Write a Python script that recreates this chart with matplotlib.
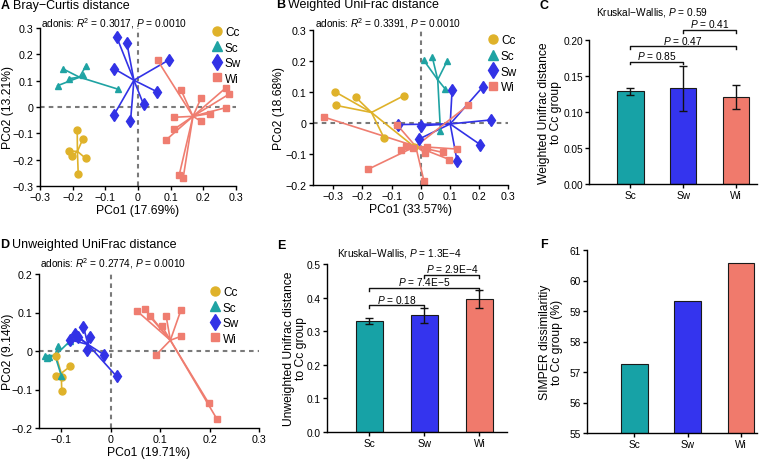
import numpy as np
import matplotlib
matplotlib.use("Agg")
import matplotlib.pyplot as plt

plt.rcParams['font.family'] = ['Liberation Sans', 'DejaVu Sans']
plt.rcParams['mathtext.fontset'] = 'custom'
plt.rcParams['mathtext.rm'] = 'Liberation Sans'
plt.rcParams['mathtext.it'] = 'Liberation Sans:italic'
plt.rcParams['axes.unicode_minus'] = True

# ---- data: groups ----
groups = ['Cc', 'Sc', 'Sw', 'Wi']
bar_groups = ['Sc', 'Sw', 'Wi']

# ---- A: Bray-Curtis PCoA ----
bray_cc_x = [-0.186, -0.169, -0.212, -0.203, -0.160, -0.183]
bray_cc_y = [-0.088, -0.122, -0.167, -0.187, -0.195, -0.253]
bray_sc_x = [-0.230, -0.160, -0.210, -0.167, -0.246, -0.062]
bray_sc_y = [0.145, 0.155, 0.108, 0.122, 0.081, 0.068]
bray_sw_x = [-0.065, -0.034, -0.074, 0.095, 0.058, 0.017, -0.074, -0.023]
bray_sw_y = [0.265, 0.242, 0.146, 0.179, 0.058, 0.010, -0.031, -0.055]
bray_wi_x = [0.060, 0.132, 0.193, 0.270, 0.279, 0.270, 0.219, 0.193, 0.110, 0.110, 0.087, 0.126, 0.138]
bray_wi_y = [0.177, 0.064, 0.034, 0.074, 0.049, -0.002, -0.025, -0.054, -0.039, -0.085, -0.124, -0.259, -0.271]

# ---- B: weighted UniFrac PCoA ----
wuf_cc_x = [-0.293, -0.223, -0.292, -0.058, -0.126, -0.023]
wuf_cc_y = [0.100, 0.083, 0.057, 0.088, -0.048, -0.076]
wuf_sc_x = [0.010, 0.040, 0.091, 0.084, 0.068]
wuf_sc_y = [0.203, 0.212, 0.200, 0.110, -0.027]
wuf_sw_x = [0.108, 0.213, 0.243, 0.205, 0.125, -0.006, 0.000, -0.077]
wuf_sw_y = [0.108, 0.116, 0.010, -0.070, -0.122, -0.052, -0.009, -0.005]
wuf_wi_x = [-0.332, -0.081, 0.164, -0.180, 0.011, -0.051, -0.066, -0.025, 0.022, 0.016, 0.076, 0.099, 0.124]
wuf_wi_y = [0.019, -0.006, 0.058, -0.149, -0.186, -0.073, -0.087, -0.082, -0.078, -0.097, -0.095, -0.118, -0.084]

# ---- D: unweighted UniFrac PCoA ----
uuf_cc_x = [-0.111, -0.082, -0.099, -0.098, -0.110]
uuf_cc_y = [-0.064, -0.040, -0.103, -0.068, -0.014]
uuf_sc_x = [-0.133, -0.125, -0.107, -0.082, -0.100, -0.128]
uuf_sc_y = [-0.012, -0.016, 0.014, 0.026, -0.064, -0.018]
uuf_sw_x = [-0.055, -0.073, -0.067, -0.042, -0.082, -0.048, -0.013, 0.012]
uuf_sw_y = [0.063, 0.044, 0.036, 0.037, 0.029, 0.003, -0.010, -0.066]
uuf_wi_x = [0.054, 0.069, 0.079, 0.112, 0.142, 0.104, 0.142, 0.092, 0.198, 0.215]
uuf_wi_y = [0.103, 0.109, 0.090, 0.092, 0.106, 0.064, 0.038, -0.010, -0.135, -0.177]

# ---- C, E, F: bar data ----
wuf_mean = [0.129, 0.133, 0.121]
wuf_err = [0.005, 0.031, 0.017]
wuf_pvals = ['0.85', '0.47', '0.41']
wuf_kw = '0.59'

uuf_mean = [0.330, 0.347, 0.396]
uuf_err = [0.008, 0.022, 0.026]
uuf_pvals = ['0.18', '7.4E\u22125', '2.9E\u22124']
uuf_kw = '1.3E\u22124'

simper = [57.27, 59.32, 60.56]

# ---- styling ----
colors = {'Cc': '#dfb22a', 'Sc': '#1fa3a3', 'Sw': '#3232e6', 'Wi': '#ef7d70'}
bar_colors = ['#17a2a6', '#3434ee', '#f07a6c']
markers = {'Cc': 'o', 'Sc': '^', 'Sw': 'd', 'Wi': 's'}
msizes = {'Cc': 5, 'Sc': 5, 'Sw': 6.5, 'Wi': 4.3}

W, H = 761, 460
fig = plt.figure(figsize=(W / 100, H / 100), dpi=100)


def rect(l, t, r, b):
    return [l / W, 1 - b / H, (r - l) / W, (b - t) / H]


def style(ax, size=7.7):
    for s in ['top', 'right']:
        ax.spines[s].set_visible(False)
    for s in ['left', 'bottom']:
        ax.spines[s].set_linewidth(1.0)
    ax.tick_params(labelsize=size, length=3, width=1, pad=1.5)


def pcoa(ax, data, xlim, ylim, xlab, ylab, ylab_x):
    style(ax)
    ax.axhline(0, color='#7a7a7a', ls=(0, (2.2, 2)), lw=1.5, zorder=0)
    ax.axvline(0, color='#7a7a7a', ls=(0, (2.2, 2)), lw=1.5, zorder=0)
    for g, (xs, ys) in zip(groups, data):
        cx, cy = np.mean(xs), np.mean(ys)
        for x, y in zip(xs, ys):
            ax.plot([cx, x], [cy, y], color=colors[g], lw=1.2, zorder=1)
    for g, (xs, ys) in zip(groups, data):
        ax.plot(xs, ys, ls='none', marker=markers[g], ms=msizes[g],
                color=colors[g], mec=colors[g], zorder=2, label=g)
    ax.set_xlim(xlim)
    ax.set_ylim(ylim)
    ax.set_xlabel(xlab, fontsize=8.7, labelpad=1)
    ax.set_ylabel(ylab, fontsize=8.7)
    ax.yaxis.set_label_coords(ylab_x, 0.5)


def legend(ax, x, y):
    ax.legend(loc='upper left', bbox_to_anchor=(x / W, 1 - y / H),
              bbox_transform=fig.transFigure, frameon=False, fontsize=8.5,
              handlelength=0.8, handletextpad=0.3, borderpad=0,
              labelspacing=0.3, markerscale=1.3, borderaxespad=0)


def bars(ax, vals, err=None):
    style(ax, 7.3)
    idx = np.arange(len(bar_groups))
    ax.bar(idx, vals, width=0.5, color=bar_colors, edgecolor='#1a1a1a', lw=0.8, zorder=2)
    if err is not None:
        ax.errorbar(idx, vals, yerr=err, fmt='none', ecolor='#111111',
                    elinewidth=1, capsize=3, capthick=1, zorder=3)
    ax.set_xticks(idx)
    ax.set_xticklabels(bar_groups)


def bracket(ax, i, j, h, tick, label):
    ax.plot([i, i, j, j], [h - tick, h, h, h - tick], color='#111111', lw=1,
            clip_on=False)
    ax.text((i + j) / 2, h + tick * 0.3, r'$P$ = ' + label, ha='center', va='bottom',
            fontsize=7.3, clip_on=False)


# A
axA = fig.add_axes(rect(40, 29, 236, 187))
pcoa(axA, [(bray_cc_x, bray_cc_y), (bray_sc_x, bray_sc_y),
           (bray_sw_x, bray_sw_y), (bray_wi_x, bray_wi_y)],
     (-0.3, 0.3), (-0.3, 0.3), 'PCo1 (17.69%)', 'PCo2 (13.21%)', -0.135)
axA.set_xticks(np.arange(-0.3, 0.31, 0.1))
axA.set_yticks(np.arange(-0.3, 0.31, 0.1))
axA.set_xticklabels(['\u22120.3', '\u22120.2', '\u22120.1', '0', '0.1', '0.2', '0.3'])
axA.set_yticklabels(['\u22120.3', '\u22120.2', '\u22120.1', '0', '0.1', '0.2', '0.3'])
legend(axA, 212, 27)

# B
axB = fig.add_axes(rect(313, 31, 508, 186))
pcoa(axB, [(wuf_cc_x, wuf_cc_y), (wuf_sc_x, wuf_sc_y),
           (wuf_sw_x, wuf_sw_y), (wuf_wi_x, wuf_wi_y)],
     (-0.37, 0.3), (-0.2, 0.3), 'PCo1 (33.57%)', 'PCo2 (18.68%)', -0.145)
axB.set_xticks(np.arange(-0.3, 0.31, 0.1))
axB.set_yticks(np.arange(-0.2, 0.31, 0.1))
axB.set_xticklabels(['\u22120.3', '\u22120.2', '\u22120.1', '0', '0.1', '0.2', '0.3'])
axB.set_yticklabels(['\u22120.2', '\u22120.1', '0', '0.1', '0.2', '0.3'])
legend(axB, 488, 35.5)

# D
axD = fig.add_axes(rect(39, 275, 259, 429))
pcoa(axD, [(uuf_cc_x, uuf_cc_y), (uuf_sc_x, uuf_sc_y),
           (uuf_sw_x, uuf_sw_y), (uuf_wi_x, uuf_wi_y)],
     (-0.145, 0.3), (-0.2, 0.2), 'PCo1 (19.71%)', 'PCo2 (9.14%)', -0.115)
axD.set_xticks([-0.1, 0, 0.1, 0.2, 0.3])
axD.set_yticks([-0.2, -0.1, 0, 0.1, 0.2])
axD.set_xticklabels(['\u22120.1', '0', '0.1', '0.2', '0.3'])
axD.set_yticklabels(['\u22120.2', '\u22120.1', '0', '0.1', '0.2'])
legend(axD, 210, 287)

# C
axC = fig.add_axes(rect(589, 41, 757, 185))
bars(axC, wuf_mean, wuf_err)
axC.set_xlim(-0.785, 2.4)
axC.set_ylim(0, 0.2)
axC.set_yticks([0, 0.05, 0.10, 0.15, 0.20])
axC.set_yticklabels(['0.00', '0.05', '0.10', '0.15', '0.20'])
axC.set_ylabel('Weighted Unifrac distance\nto Cc group', fontsize=8.7, linespacing=1.0)
axC.yaxis.set_label_coords(-0.16, 0.5)
for (i, j), h, p in zip([(0, 1), (0, 2), (1, 2)], [0.170, 0.191, 0.214], wuf_pvals):
    bracket(axC, i, j, h, 0.004, p)
axC.text(0.41, 0.231, r'Kruskal$-$Wallis, $P$ = ' + wuf_kw, ha='center', va='bottom',
         fontsize=7.3, clip_on=False)

# E
axE = fig.add_axes(rect(327, 265, 507, 433))
bars(axE, uuf_mean, uuf_err)
axE.set_xlim(-0.77, 2.5)
axE.set_ylim(0, 0.5)
axE.set_yticks([0, 0.1, 0.2, 0.3, 0.4, 0.5])
axE.set_yticklabels(['0.0', '0.1', '0.2', '0.3', '0.4', '0.5'])
axE.set_ylabel('Unweighted Unifrac distance\nto Cc group', fontsize=8.7, linespacing=1.0)
axE.yaxis.set_label_coords(-0.11, 0.5)
for (i, j), h, p in zip([(0, 1), (0, 2), (1, 2)], [0.377, 0.429, 0.467], uuf_pvals):
    bracket(axE, i, j, h, 0.008, p)
axE.text(0.55, 0.515, r'Kruskal$-$Wallis, $P$ = ' + uuf_kw, ha='center', va='bottom',
         fontsize=7.3, clip_on=False)

# F
axF = fig.add_axes(rect(587, 251, 757, 434))
bars(axF, simper)
axF.set_xlim(-0.89, 2.3)
axF.set_ylim(55, 61)
axF.set_yticks(range(55, 62))
axF.set_ylabel('SIMPER dissimilaritiy\nto Cc group (%)', fontsize=8.7, linespacing=1.0)
axF.yaxis.set_label_coords(-0.14, 0.5)


# titles, panel letters, adonis
def head(x, y, letter, title=None):
    fig.text(x / W, 1 - y / H, letter, fontsize=9, weight='bold', va='center', ha='left')
    if title:
        fig.text((x + 12) / W, 1 - y / H, title, fontsize=9, va='center', ha='left')


head(1, 6, 'A', 'Bray\u2212Curtis distance')
head(276, 5, 'B', 'Weighted UniFrac distance')
head(539, 6, 'C')
head(0, 245, 'D', 'Unweighted UniFrac distance')
head(277, 246, 'E')
head(540, 245, 'F')

fig.text(41 / W, 1 - 23.5 / H, r'adonis: $R$$^2$ = 0.3017, $P$ = 0.0010', fontsize=7.3, va='center')
fig.text(315 / W, 1 - 23.5 / H, r'adonis: $R$$^2$ = 0.3391, $P$ = 0.0010', fontsize=7.3, va='center')
fig.text(40 / W, 1 - 263.5 / H, r'adonis: $R$$^2$ = 0.2774, $P$ = 0.0010', fontsize=7.3, va='center')

fig.savefig('out.png', dpi=100)
